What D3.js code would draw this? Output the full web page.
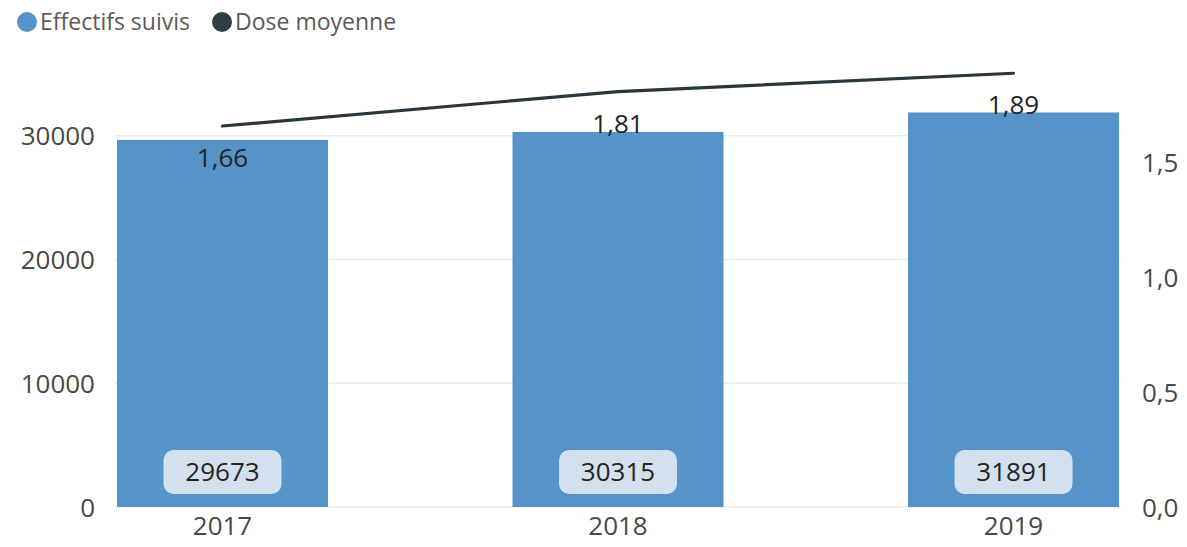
<!DOCTYPE html>
<html>
<head>
<meta charset="utf-8">
<script src="https://cdn.jsdelivr.net/npm/d3@7"></script>
<style>
  body { margin: 0; background: #fff; }
  text { font-family: "Open Sans", "Noto Sans", sans-serif; }
</style>
</head>
<body>
<svg class="svg" width="1187" height="547"></svg>
<script>
// données
const years = ["2017", "2018", "2019"];
const effectifs = [29673, 30315, 31891];
const doses = [1.66, 1.81, 1.89];
const leftTicks = [0, 10000, 20000, 30000];
const rightTicks = [0, 0.5, 1.0, 1.5];

const svg = d3.select(".svg");
const plotTop = 48, plotBottom = 507;

const x = d3.scaleBand()
    .domain(years)
    .range([117, 1119])
    .paddingInner(0.4665)
    .paddingOuter(0);

const yLeft = d3.scaleLinear().domain([0, 37100]).range([plotBottom, plotTop]);
const yRight = d3.scaleLinear().domain([0, 2]).range([plotBottom, plotTop]);

const fr = d3.formatLocale({ decimal: ",", thousands: "\u00a0", grouping: [3], currency: ["", "€"] });
const fmt1 = fr.format(".1f");
const fmt2 = fr.format(".2f");

// grille
svg.append("g")
    .selectAll("line")
    .data(leftTicks)
    .join("line")
    .attr("x1", 115).attr("x2", 1121)
    .attr("y1", d => yLeft(d)).attr("y2", d => yLeft(d))
    .attr("stroke", "#ebebeb")
    .attr("stroke-width", 1.5);

// axe gauche
const axisLeft = svg.append("g")
    .attr("transform", "translate(95,0)")
    .call(d3.axisLeft(yLeft).tickValues(leftTicks).tickSize(0).tickPadding(0).tickFormat(d3.format("d")));
axisLeft.select(".domain").remove();
axisLeft.selectAll("text").attr("font-size", 26).attr("fill", "#484848").attr("dy", "0.35em");

// axe droit
const axisRight = svg.append("g")
    .attr("transform", "translate(1142,0)")
    .call(d3.axisRight(yRight).tickValues(rightTicks).tickSize(0).tickPadding(0).tickFormat(fmt1));
axisRight.select(".domain").remove();
axisRight.selectAll("text").attr("font-size", 26).attr("fill", "#484848").attr("dy", "0.35em");

// axe x
const axisX = svg.append("g")
    .attr("transform", `translate(0,${plotBottom})`)
    .call(d3.axisBottom(x).tickSize(0).tickPadding(10));
axisX.select(".domain").remove();
axisX.selectAll("text").attr("font-size", 26).attr("fill", "#484848").attr("dy", "0.71em");

// barres
svg.append("g")
    .selectAll("rect")
    .data(years)
    .join("rect")
    .attr("x", d => x(d))
    .attr("width", x.bandwidth())
    .attr("y", (d, i) => yLeft(effectifs[i]))
    .attr("height", (d, i) => plotBottom - yLeft(effectifs[i]))
    .attr("fill", "#5593c9");

// étiquettes des barres
const boxes = svg.append("g")
    .selectAll("g")
    .data(years)
    .join("g")
    .attr("transform", d => `translate(${x(d) + x.bandwidth() / 2},472)`);

boxes.append("rect")
    .attr("x", -59).attr("y", -22)
    .attr("width", 118).attr("height", 44)
    .attr("rx", 10)
    .attr("fill", "#d3e0ee");

boxes.append("text")
    .attr("text-anchor", "middle")
    .attr("dy", "0.35em")
    .attr("font-size", 26)
    .attr("fill", "#252423")
    .text((d, i) => effectifs[i]);

// ligne dose moyenne
const line = d3.line()
    .x((d, i) => x(years[i]) + x.bandwidth() / 2)
    .y(d => yRight(d));

svg.append("g")
    .selectAll("text")
    .data(doses)
    .join("text")
    .attr("x", (d, i) => x(years[i]) + x.bandwidth() / 2)
    .attr("y", d => yRight(d) + 32)
    .attr("dy", "0.35em")
    .attr("text-anchor", "middle")
    .attr("font-size", 26)
    .attr("fill", "#252423")
    .text(d => fmt2(d));

svg.append("path")
    .datum(doses)
    .attr("d", line)
    .attr("fill", "none")
    .attr("stroke", "#2a3639")
    .attr("stroke-width", 3.2)
    .attr("stroke-linecap", "round");

// légende
const legend = [
    { label: "Effectifs suivis", color: "#5593c9", x: 27 },
    { label: "Dose moyenne", color: "#2d3e45", x: 222 }
];
const lg = svg.append("g")
    .selectAll("g")
    .data(legend)
    .join("g")
    .attr("transform", d => `translate(${d.x},22)`);
lg.append("circle").attr("r", 10).attr("fill", d => d.color);
lg.append("text")
    .attr("x", 13)
    .attr("dy", "0.35em")
    .attr("font-size", 23)
    .attr("fill", "#5a5a5a")
    .text(d => d.label);
</script>
</body>
</html>
